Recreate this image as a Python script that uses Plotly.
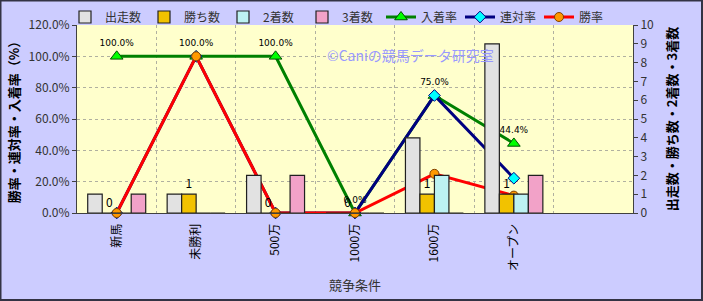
import plotly.graph_objects as go

categories = ["新馬", "未勝利", "500万", "1000万", "1600万", "オープン"]
starts = [1, 1, 2, 0, 4, 9]        # 出走数
wins = [0, 1, 0, 0, 1, 1]          # 勝ち数
seconds = [0, 0, 0, 0, 2, 1]       # 2着数
thirds = [1, 0, 2, 0, 0, 2]        # 3着数
place_rate = [100.0, 100.0, 100.0, 0.0, 75.0, 44.4]   # 入着率
quinella_rate = [0.0, 100.0, 0.0, 0.0, 75.0, 22.2]    # 連対率
win_rate = [0.0, 100.0, 0.0, 0.0, 25.0, 11.1]         # 勝率

W, H = 703, 301
ML, MR, MT, MB = 77, 70, 25, 88
PW, PH = W - ML - MR, H - MT - MB

xs = list(range(len(categories)))
FONT = "Noto Sans CJK JP"

fig = go.Figure()

bar_specs = [
    ("出走数", starts, "#E2E2E2"),
    ("勝ち数", wins, "#F2C200"),
    ("2着数", seconds, "#BDF2F2"),
    ("3着数", thirds, "#F2A2C8"),
]
for name, vals, col in bar_specs:
    kw = {}
    if name == "勝ち数":
        kw = dict(text=[str(v) for v in vals], textposition="outside",
                  textfont=dict(size=12, color="black", family=FONT),
                  cliponaxis=False)
    fig.add_trace(go.Bar(x=xs, y=vals, name=name, yaxis="y2",
                         marker=dict(color=col, line=dict(color="#202020", width=1.2)),
                         **kw))

fig.add_trace(go.Scatter(x=xs, y=place_rate, name="入着率", mode="lines+markers+text",
                         line=dict(color="#008000", width=3),
                         marker=dict(symbol="triangle-up", size=11, color="#00FF00",
                                     line=dict(color="#005000", width=1)),
                         text=[f"{v:.1f}%" for v in place_rate], textposition="top center",
                         textfont=dict(size=9, color="black", family="DejaVu Sans"),
                         cliponaxis=False))
fig.add_trace(go.Scatter(x=xs, y=quinella_rate, name="連対率", mode="lines+markers",
                         line=dict(color="#000080", width=3),
                         marker=dict(symbol="diamond", size=9, color="#00FFFF",
                                     line=dict(color="#000080", width=1)),
                         cliponaxis=False))
fig.add_trace(go.Scatter(x=xs, y=win_rate, name="勝率", mode="lines+markers",
                         line=dict(color="#FF0000", width=3),
                         marker=dict(symbol="circle", size=9, color="#FF9900",
                                     line=dict(color="#804000", width=1)),
                         cliponaxis=False))

fig.update_layout(
    width=W, height=H,
    margin=dict(l=ML, r=MR, t=MT, b=MB, autoexpand=False),
    paper_bgcolor="#CCCCFF", plot_bgcolor="#FFFFCC",
    font=dict(family=FONT, size=12, color="#333333"),
    barmode="group", bargap=0.27, bargroupgap=0,
    showlegend=True,
    legend=dict(orientation="h", x=-12 / PW, xanchor="left", y=1 + 8 / PH, yanchor="middle",
                bgcolor="rgba(0,0,0,0)", font=dict(size=12, color="#333333"),
                itemwidth=30, tracegroupgap=0, traceorder="normal",
                entrywidth=34, entrywidthmode="pixels"),
    xaxis=dict(range=[-0.5, 6.5], tickmode="array", tickvals=xs, ticktext=categories,
               tickangle=-90, tickfont=dict(size=12, color="black"),
               showgrid=False, showline=True, linecolor="#404040", linewidth=1,
               ticks="outside", ticklen=5, tickcolor="rgba(0,0,0,0)", zeroline=False,
               minor=dict(tickmode="linear", tick0=0.5, dtick=1, showgrid=True,
                          gridcolor="#B0B0A0", griddash="dot", gridwidth=1),
               title=dict(text="競争条件", font=dict(size=13, color="#333333"), standoff=10)),
    yaxis=dict(range=[0, 120], dtick=20, tickformat=".1f", ticksuffix="%",
               showgrid=True, gridcolor="#B0B0A0", griddash="dot", gridwidth=1,
               showline=True, linecolor="#404040", linewidth=1,
               ticks="outside", ticklen=4, tickcolor="#404040",
               zeroline=False, tickfont=dict(size=12, color="#333333"),
               title=dict(text="勝率・連対率・入着率（%）",
                          font=dict(size=13, color="black", weight="bold"), standoff=6)),
    yaxis2=dict(range=[0, 10], dtick=1, overlaying="y", side="right",
                showgrid=False, showline=True, linecolor="#404040", linewidth=1,
                ticks="outside", ticklen=4, tickcolor="#404040", zeroline=False,
                tickfont=dict(size=12, color="#333333"),
                title=dict(text="出走数・勝ち数・2着数・3着数",
                           font=dict(size=13, color="black", weight="bold"), standoff=14)),
    annotations=[dict(text="©Caniの競馬データ研究室", xref="paper", yref="paper",
                      x=(496 - ML) / PW, y=(H - MB - 43) / PH, showarrow=False,
                      font=dict(size=14, color="#9999FF", family=FONT))],
    shapes=[dict(type="rect", xref="paper", yref="paper",
                 x0=-ML / PW + 0.5 / PW, x1=1 + (MR - 1) / PW,
                 y0=-MB / PH + 1 / PH, y1=1 + (MT - 0.5) / PH,
                 line=dict(color="#333344", width=2), layer="above")],
)

fig.write_html("out.html")
